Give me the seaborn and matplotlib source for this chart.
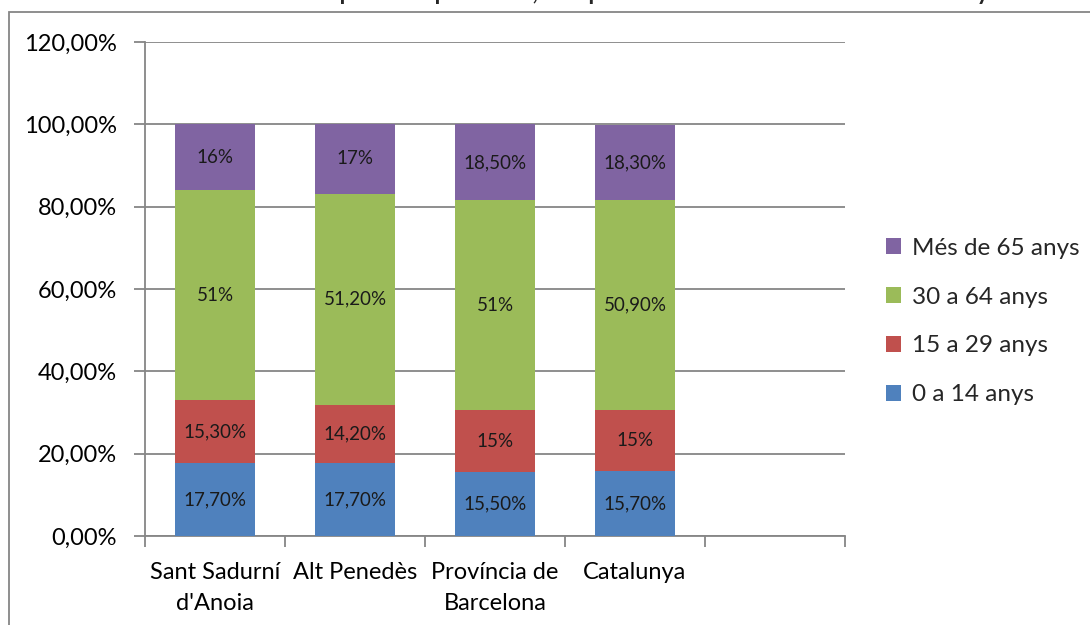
import matplotlib
matplotlib.use("Agg")
import matplotlib.pyplot as plt
import numpy as np
import pandas as pd
import seaborn as sns
from matplotlib.patches import Patch, Rectangle

# Chart data (percent of population by age group)
regions = ["Sant Sadurní\nd'Anoia", "Alt Penedès", "Província de\nBarcelona", "Catalunya"]
groups = ["0 a 14 anys", "15 a 29 anys", "30 a 64 anys", "Més de 65 anys"]
age_0_14 = [17.7, 17.7, 15.5, 15.7]
age_15_29 = [15.3, 14.2, 15.0, 15.0]
age_30_64 = [51.0, 51.2, 51.0, 50.9]
age_65_plus = [16.0, 17.0, 18.5, 18.3]
yticks = [0, 20, 40, 60, 80, 100, 120]
title = "Estructura de la població per edats, comparativa amb els territoris de Catalunya"

colors = ["#4F81BD", "#C0504D", "#9BBB59", "#8064A2"]
gray = "#868686"


def pct_label(v):
    # Excel-style: whole numbers as "51%", others with two decimals and a comma
    if float(v).is_integer():
        return f"{int(v)}%"
    return f"{v:.2f}".replace(".", ",") + "%"


sns.set_theme(style="white")
plt.rcParams["font.family"] = ["Lato", "DejaVu Sans"]

df = pd.DataFrame({
    "region": regions,
    groups[0]: age_0_14,
    groups[1]: age_15_29,
    groups[2]: age_30_64,
    groups[3]: age_65_plus,
})
stacked = df[groups].cumsum(axis=1)
stacked["region"] = df["region"]

fig = plt.figure(figsize=(10.9, 6.25), dpi=100)
ax = fig.add_axes([145 / 1090, 89 / 625, 700 / 1090, 494 / 625])

# draw the full stack first, then each lower total on top of it
for g, c in zip(groups[::-1], colors[::-1]):
    sns.barplot(data=stacked, x="region", y=g, color=c, saturation=1,
                width=0.565, errorbar=None, linewidth=0, ax=ax, zorder=3)

# segment labels
for i in range(len(regions)):
    for g in groups:
        top = stacked.loc[i, g]
        val = df.loc[i, g]
        ax.text(i, top - val / 2, pct_label(val), ha="center", va="center",
                fontsize=13.5, color="#1a1a1a", zorder=4)

ax.set_xlim(-0.5, 4.5)
ax.set_ylim(0, 120)
ax.set_xlabel("")
ax.set_ylabel("")

ax.set_xticks(np.arange(-0.5, 5, 1))
ax.set_xticklabels([])
ax.set_xticks(range(len(regions)), minor=True)
ax.set_xticklabels(regions, minor=True, linespacing=1.6)
ax.tick_params(axis="x", which="major", bottom=True, length=8, width=1.3,
               color=gray, direction="out")
ax.tick_params(axis="x", which="minor", bottom=True, length=0, pad=18.5,
               labelsize=17, labelcolor="black")

ax.set_yticks(yticks)
ax.set_yticklabels([f"{v:.2f}".replace(".", ",") + "%" for v in yticks])
ax.tick_params(axis="y", left=True, length=8, width=1.3, color=gray,
               direction="out", pad=12, labelsize=17, labelcolor="black")

ax.yaxis.grid(True, color=gray, linewidth=1.3, zorder=0)
ax.set_axisbelow(True)
for side in ["top", "right"]:
    ax.spines[side].set_visible(False)
for side in ["left", "bottom"]:
    ax.spines[side].set_color(gray)
    ax.spines[side].set_linewidth(1.3)

handles = [Patch(facecolor=c, edgecolor="none") for c in colors[::-1]]
fig.legend(handles, groups[::-1], loc="center left",
           bbox_to_anchor=(886 / 1090, 0.4856), frameon=False, fontsize=17.5,
           handlelength=0.62, handleheight=0.62, handletextpad=0.45,
           labelspacing=1.15, borderpad=0, borderaxespad=0)

# chart area border (cropped at the right and bottom)
fig.patches.append(Rectangle((9 / 1090, -0.05), 1.2, 1.05 - 12 / 625,
                             transform=fig.transFigure, fill=False,
                             edgecolor=gray, linewidth=1.3))

# title sits above the visible area, only its descenders show
fig.text(585 / 1090, 1.0, title, ha="center", va="baseline",
         fontsize=17, fontweight="bold")

fig.savefig("out.png", dpi=100)
